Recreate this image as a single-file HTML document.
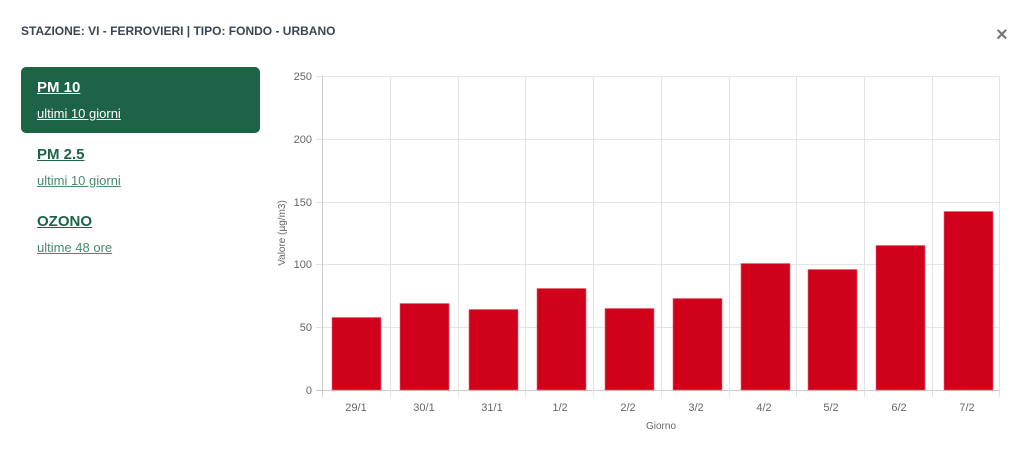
<!DOCTYPE html>
<html><head><meta charset="utf-8"><style>
body{margin:0;width:1024px;height:451px;background:#fff;font-family:"Liberation Sans",sans-serif;position:relative;overflow:hidden}
.t{position:absolute;left:21px;top:24px;font-size:12px;font-weight:bold;color:#3a4654;letter-spacing:0px}
.x{position:absolute;left:996px;top:24px;font-size:20px;color:#777;font-weight:bold}
.card{position:absolute;left:21px;top:67px;width:239px;height:66px;background:#1c6445;border-radius:5px}
.h{position:absolute;left:37px;font-size:15px;font-weight:bold;text-decoration:underline;color:#1c6445}
.s{position:absolute;left:37px;font-size:13px;text-decoration:underline;color:#4a8a6c}
</style></head><body>
<div class="t">STAZIONE: VI - FERROVIERI | TIPO: FONDO - URBANO</div>
<div class="x">×</div>
<div class="card"></div>
<div class="h" style="top:79px;color:#fff">PM 10</div>
<div class="s" style="top:106px;color:#fff">ultimi 10 giorni</div>
<div class="h" style="top:146px">PM 2.5</div>
<div class="s" style="top:173px">ultimi 10 giorni</div>
<div class="h" style="top:213px">OZONO</div>
<div class="s" style="top:240px">ultime 48 ore</div>
<svg width="1024" height="451" style="position:absolute;left:0;top:0" font-family="Liberation Sans, sans-serif">
<g stroke="#e3e3e3" stroke-width="1">
<line x1="316" x2="1000" y1="76.5" y2="76.5"/><line x1="316" x2="1000" y1="139.5" y2="139.5"/>
<line x1="316" x2="1000" y1="202.5" y2="202.5"/><line x1="316" x2="1000" y1="264.5" y2="264.5"/>
<line x1="316" x2="1000" y1="327.5" y2="327.5"/><line x1="316" x2="1000" y1="390.5" y2="390.5" stroke="#ccc"/>
<line x1="322.5" x2="322.5" y1="76" y2="397" stroke="#ccc"/>
<line x1="390.5" x2="390.5" y1="76" y2="397"/><line x1="458.5" x2="458.5" y1="76" y2="397"/>
<line x1="525.5" x2="525.5" y1="76" y2="397"/><line x1="593.5" x2="593.5" y1="76" y2="397"/>
<line x1="661.5" x2="661.5" y1="76" y2="397"/><line x1="729.5" x2="729.5" y1="76" y2="397"/>
<line x1="796.5" x2="796.5" y1="76" y2="397"/><line x1="864.5" x2="864.5" y1="76" y2="397"/>
<line x1="932.5" x2="932.5" y1="76" y2="397"/><line x1="999.5" x2="999.5" y1="76" y2="397"/>
</g>
<g fill="#666" font-size="11" text-anchor="end">
<text x="312" y="80">250</text><text x="312" y="143">200</text><text x="312" y="206">150</text>
<text x="312" y="268">100</text><text x="312" y="331">50</text><text x="312" y="394">0</text>
</g>
<text transform="translate(285,233) rotate(-90)" fill="#666" font-size="10" text-anchor="middle">Valore (µg/m3)</text>
<g fill="#d0021b" stroke="#e8606e" stroke-width="0.6">
<rect x="332" y="317.5" width="49" height="72.5"/>
<rect x="400" y="303.5" width="49" height="86.5"/>
<rect x="469" y="309.5" width="49" height="80.5"/>
<rect x="537" y="288.5" width="49" height="101.5"/>
<rect x="605" y="308.5" width="49" height="81.5"/>
<rect x="673" y="298.5" width="49" height="91.5"/>
<rect x="741" y="263.5" width="49" height="126.5"/>
<rect x="808" y="269.5" width="49" height="120.5"/>
<rect x="876" y="245.5" width="49" height="144.5"/>
<rect x="944" y="211.5" width="49" height="178.5"/>
</g>
<g fill="#666" font-size="11" text-anchor="middle">
<text x="356" y="411">29/1</text><text x="424" y="411">30/1</text><text x="492" y="411">31/1</text>
<text x="560" y="411">1/2</text><text x="628" y="411">2/2</text><text x="696" y="411">3/2</text>
<text x="764" y="411">4/2</text><text x="831" y="411">5/2</text><text x="899" y="411">6/2</text>
<text x="967" y="411">7/2</text>
<text x="661" y="429" font-size="10">Giorno</text>
</g>
</svg>
</body></html>
